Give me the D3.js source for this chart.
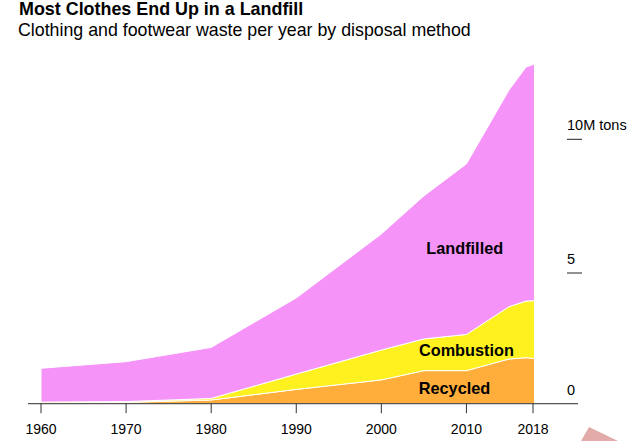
<!DOCTYPE html>
<html>
<head>
<meta charset="utf-8">
<script src="https://cdn.jsdelivr.net/npm/d3@7"></script>
<style>
body { margin: 0; background: #fff; }
text { font-family: "Liberation Sans", sans-serif; fill: #000; }
</style>
</head>
<body>
<svg id="chart" width="638" height="441"></svg>
<script>
const years = [1960, 1970, 1980, 1990, 2000, 2005, 2010, 2015, 2017, 2018]
// million tons
const recycled = [0.02, 0.05, 0.14, 0.54, 0.9, 1.25, 1.25, 1.69, 1.74, 1.71]
const combustion = [0.04, 0.03, 0.06, 0.58, 1.13, 1.2, 1.37, 1.98, 2.14, 2.19]
const landfilled = [1.28, 1.51, 1.93, 2.88, 4.39, 5.41, 6.45, 8.19, 8.85, 8.95]
const seriesNames = ['recycled', 'combustion', 'landfilled']
const seriesColors = ['#ffae3c', '#fff01f', '#f593f9']
const xTicks = [1960, 1970, 1980, 1990, 2000, 2010, 2018]
const yTicks = [0, 5, 10]
const yTickLabels = ['0', '5', '10M tons']

const svg = d3.select('#chart')
const x = d3.scaleLinear().domain([1960, 2018]).range([41, 534.5])
const y = d3.scaleLinear().domain([0, 10]).range([403.7, 139.3])

// the last x tick and the 5 tick sit a little off the scale in the original
const xTickPos = d => x(d) - (d === 2018 ? 1.5 : 0)
const yTickPos = d => y(d) + (d === 5 ? 1.5 : 0)

const rows = years.map((year, i) => ({
    year: year,
    recycled: recycled[i],
    combustion: combustion[i],
    landfilled: landfilled[i]
}))
const stacked = d3.stack().keys(seriesNames)(rows)

const area = d3.area()
    .x(d => x(d.data.year))
    .y0(d => y(d[0]))
    .y1(d => y(d[1]))

svg.selectAll('path.band')
    .data(stacked)
    .join('path')
    .attr('class', 'band')
    .attr('d', area)
    .attr('fill', (d, i) => seriesColors[i])
    .attr('stroke', '#fff')
    .attr('stroke-width', 1)

// x axis
const xAxis = svg.append('g').attr('transform', 'translate(0,403.7)')
xAxis.append('line')
    .attr('x1', 28).attr('x2', 578)
    .attr('stroke', '#555').attr('stroke-width', 1.3)
xAxis.selectAll('line.tick')
    .data(xTicks)
    .join('line')
    .attr('class', 'tick')
    .attr('x1', xTickPos).attr('x2', xTickPos)
    .attr('y1', 0).attr('y2', 9.5)
    .attr('stroke', '#333').attr('stroke-width', 1)
xAxis.selectAll('text')
    .data(xTicks)
    .join('text')
    .attr('x', xTickPos)
    .attr('y', 30)
    .attr('text-anchor', 'middle')
    .attr('font-size', 14)
    .text(d => d)

// y ticks on the right
const yAxis = svg.append('g')
yAxis.selectAll('line')
    .data(yTicks.filter(d => d > 0))
    .join('line')
    .attr('x1', 567).attr('x2', 582)
    .attr('y1', yTickPos).attr('y2', yTickPos)
    .attr('stroke', '#222').attr('stroke-width', 1)
yAxis.selectAll('text')
    .data(yTicks)
    .join('text')
    .attr('x', 567)
    .attr('y', d => yTickPos(d) - 9)
    .attr('font-size', 14.5)
    .text((d, i) => yTickLabels[i])

// labels inside the bands
const bandLabels = [
    { text: 'Landfilled', x: 2009.8, v: 5.66 },
    { text: 'Combustion', x: 2010, v: 1.8 },
    { text: 'Recycled', x: 2008.6, v: 0.37 }
]
svg.selectAll('text.band-label')
    .data(bandLabels)
    .join('text')
    .attr('class', 'band-label')
    .attr('x', d => x(d.x))
    .attr('y', d => y(d.v))
    .attr('text-anchor', 'middle')
    .attr('font-size', 16.3)
    .attr('font-weight', 700)
    .text(d => d.text)

svg.append('text').attr('x', 19).attr('y', 15)
    .attr('font-size', 17.9).attr('font-weight', 700)
    .text('Most Clothes End Up in a Landfill')
svg.append('text').attr('x', 18).attr('y', 36)
    .attr('font-size', 17.8)
    .text('Clothing and footwear waste per year by disposal method')

// cut off picture scrap in the bottom right corner
svg.append('path')
    .attr('d', 'M589,427L618,441L581,441Z')
    .attr('fill', '#e2aaa8')
</script>
</body>
</html>
